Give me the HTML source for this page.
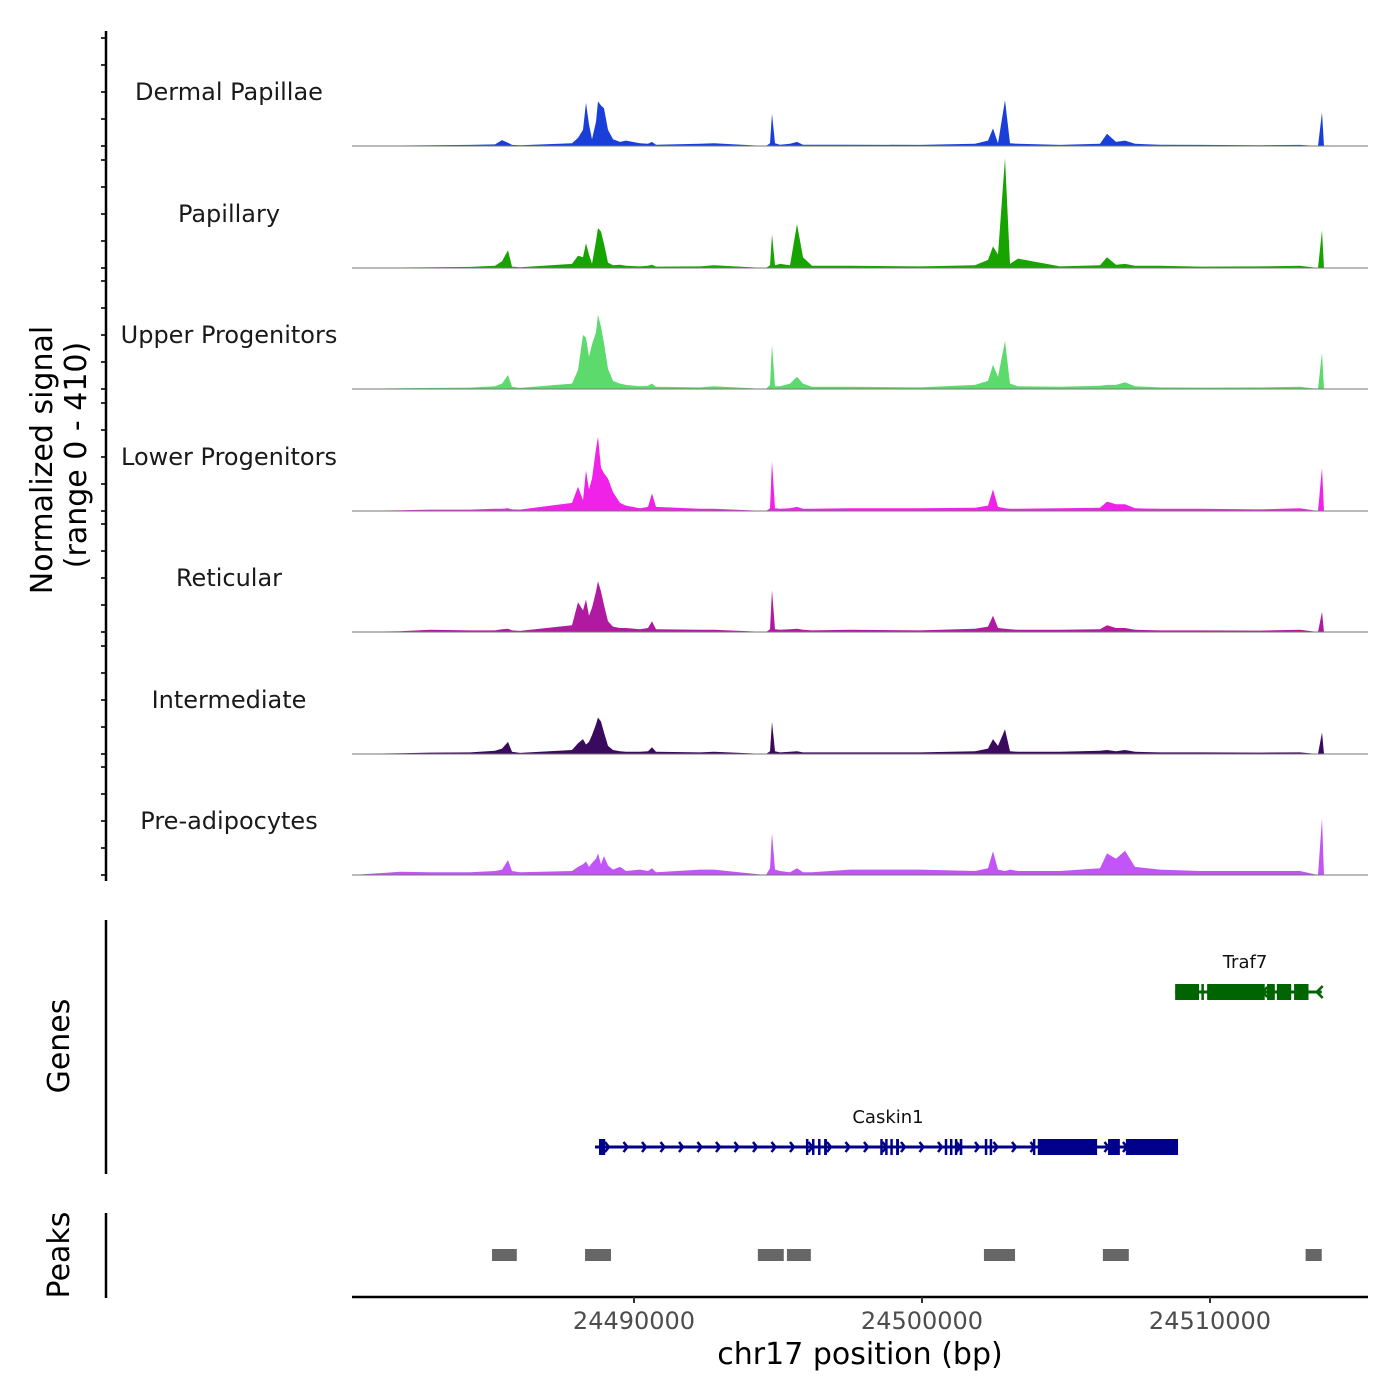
<!DOCTYPE html>
<html><head><meta charset="utf-8"><style>
html,body{margin:0;padding:0;background:#fff;}
svg{display:block;font-family:"DejaVu Sans","Liberation Sans",sans-serif;}
</style></head><body>
<svg id="chart" width="1400" height="1400" viewBox="0 0 1400 1400" xmlns="http://www.w3.org/2000/svg">
<g id="tracks"></g>
<g id="genes"></g>
<g id="peaks"></g>
<g id="axes"></g>
</svg>
<script>
// genomic positions (bp) of signal sample points
const positions = [24480208,24481875,24482917,24484306,24485174,24485417,24485625,24485764,24486042,24487847,24488056,24488229,24488333,24488438,24488542,24488681,24488750,24488854,24488958,24489097,24489271,24489514,24489722,24490208,24490486,24490625,24490764,24492292,24492778,24494583,24494722,24494792,24494896,24495069,24495417,24495660,24495868,24496181,24497500,24499931,24501840,24502292,24502465,24502639,24502882,24503056,24503333,24504792,24506181,24506424,24506736,24507049,24507396,24508264,24509653,24511736,24513125,24513750,24513889,24513958,24515486];
const groups = ["Dermal Papillae","Papillary","Upper Progenitors","Lower Progenitors","Reticular","Intermediate","Pre-adipocytes"];
const groupColors = ["#1a3fd8","#17a300","#5cdb6c","#f022ea","#b01aa0","#3a0a5e","#c255f8"];
// signal values per group (0-410), aligned with positions
const sigDermal = [0,2,3,4,6,22,12,4,3,10,30,60,160,80,25,90,165,150,140,60,25,15,20,10,8,15,5,8,10,0,10,120,10,5,8,15,5,5,5,4,8,20,65,10,170,10,8,4,8,45,15,20,8,5,4,3,4,0,125,0,0];
const sigPapillary = [0,2,3,4,8,25,66,5,3,15,45,40,92,50,15,100,148,135,90,20,10,12,8,6,8,12,5,6,10,0,10,125,10,15,10,163,40,8,8,6,10,30,80,50,407,15,35,6,10,40,12,15,8,8,5,6,8,0,140,0,0];
const sigUpper = [0,3,4,5,10,20,52,8,4,20,70,200,190,120,165,210,275,230,170,75,30,20,15,10,12,20,8,6,10,0,15,165,10,10,20,45,20,8,8,6,15,30,90,45,178,20,10,8,12,15,15,25,10,6,5,6,8,0,135,0,0];
const sigLower = [0,3,5,5,8,8,10,6,5,30,90,40,150,80,120,230,275,160,140,120,70,30,20,10,15,65,15,8,8,0,10,185,10,8,10,15,8,8,10,10,12,20,80,15,10,8,8,10,12,35,25,25,10,8,8,6,10,0,160,0,0];
const sigReticular = [0,3,8,6,6,10,12,6,4,25,110,80,120,60,90,150,188,150,100,40,20,15,15,10,15,40,10,8,8,0,10,155,10,8,10,12,8,6,8,6,12,20,60,15,12,10,8,8,10,25,15,15,8,6,6,5,8,0,75,0,0];
const sigIntermediate = [0,3,5,6,12,20,45,8,4,15,40,55,35,45,70,110,135,120,80,30,15,10,8,8,10,25,8,6,8,0,10,120,10,6,8,10,6,6,6,6,10,20,55,30,92,10,8,8,12,15,10,15,8,6,6,5,6,0,80,0,0];
const sigPreadipo = [0,12,10,10,15,20,55,15,10,15,30,40,50,30,45,60,80,40,70,35,20,30,15,20,15,25,10,20,20,0,25,155,20,15,10,25,10,10,20,20,15,25,88,20,15,20,15,15,25,80,60,90,30,20,15,15,15,0,210,0,0];
const signals = [sigDermal,sigPapillary,sigUpper,sigLower,sigReticular,sigIntermediate,sigPreadipo];
// axis ticks
const xTicks = [24490000,24500000,24510000];
const yTickValues = [0,100,200,300,400];
// genes: exons [start,end] in bp
const caskin1Exons = [[24488785,24489000],[24495970,24496030],[24496180,24496240],[24496390,24496450],[24496600,24496700],[24498550,24498620],[24498720,24498790],[24498900,24498970],[24499100,24499200],[24500790,24500860],[24500970,24501040],[24501140,24501210],[24501310,24501400],[24502180,24502250],[24502350,24502420],[24503850,24503920],[24504020,24506080],[24506460,24506870],[24507080,24508890]];
const caskin1Span = [24488645,24508890];
const traf7Exons = [[24508790,24509620],[24509700,24509760],[24509900,24511900],[24511980,24512250],[24512320,24512820],[24512920,24513420]];
const traf7Span = [24508790,24513880];
// peaks [start,end] bp
const peakRegions = [[24485070,24485930],[24488300,24489200],[24494300,24495200],[24495310,24496140],[24502150,24503230],[24506280,24507180],[24513320,24513880]];

const NS="http://www.w3.org/2000/svg";
const X0=352,X1=1368,BP0=24480208,BP1=24515486;
function xs(bp){return X0+(bp-BP0)/(BP1-BP0)*(X1-X0);}
const YMAX=410,TRACK_H=110.7;
const baselines=[146,268,389,511,632,754,875];
function mk(tag,attrs,parent){const e=document.createElementNS(NS,tag);for(const k in attrs)e.setAttribute(k,attrs[k]);parent.appendChild(e);return e;}
const tracks=document.getElementById('tracks');
groups.forEach((g,i)=>{
  const b=baselines[i];
  const ys=v=>b-v/YMAX*TRACK_H;
  let d='M'+xs(positions[0])+','+b;
  positions.forEach((p,j)=>{d+=' L'+xs(p).toFixed(1)+','+ys(signals[i][j]).toFixed(1);});
  d+=' L'+xs(positions[positions.length-1])+','+b+' Z';
  const a=mk('path',{d:d,fill:groupColors[i],stroke:'none'},tracks);
  
  
  const l=mk('line',{x1:X0,x2:X1,y1:b,y2:b,stroke:'#777','stroke-width':1},tracks);
  
  
  const t=mk('text',{x:229,y:b-46,'text-anchor':'middle','font-size':24,fill:'#1a1a1a'},tracks);
  t.textContent=g;
  
  
  yTickValues.forEach(v=>{
    const tk=mk('line',{x1:101,x2:106,y1:ys(v),y2:ys(v),stroke:'#333','stroke-width':2},tracks);
    
    
  });
});
// genes
const genes=document.getElementById('genes');
function drawGene(name,span,exons,y,color,strand,labelX){
  const gg=mk('g',{},genes);
  
  
  mk('line',{x1:xs(span[0]),x2:xs(span[1]),y1:y,y2:y,stroke:color,'stroke-width':3},gg);
  const x0=xs(span[0]),x1=xs(span[1]);
  for(let x=x0+14;x<x1-6;x+=18.5){
    const dx=strand>0?4:-4;
    mk('polyline',{points:(x-dx)+','+(y-5)+' '+x+','+y+' '+(x-dx)+','+(y+5),fill:'none',stroke:color,'stroke-width':2.5},gg);
  }
  if(strand<0){mk('polyline',{points:(x1+1)+','+(y-6)+' '+(x1-5)+','+y+' '+(x1+1)+','+(y+6),fill:'none',stroke:color,'stroke-width':2.5},gg);}
  exons.forEach(e=>{
    const w=Math.max(xs(e[1])-xs(e[0]),2.5);
    mk('rect',{x:xs(e[0]),y:y-8,width:w,height:16,fill:color},gg);
  });
  const t=mk('text',{x:labelX,y:y-24,'text-anchor':'middle','font-size':18,fill:'#111'},gg);
  t.textContent=name;
  
  
}
drawGene('Traf7',traf7Span,traf7Exons,992,'#006400',-1,1245);
drawGene('Caskin1',caskin1Span,caskin1Exons,1147,'#00008b',1,888);
// peaks
const peaks=document.getElementById('peaks');
peakRegions.forEach(p=>{
  const r=mk('rect',{x:xs(p[0]),y:1249,width:xs(p[1])-xs(p[0]),height:12,fill:'#666'},peaks);
  
  
});
// axes
const axes=document.getElementById('axes');
let e;
e=mk('line',{x1:106,x2:106,y1:31,y2:881,stroke:'#000','stroke-width':2.5},axes);


e=mk('line',{x1:106,x2:106,y1:920,y2:1174,stroke:'#000','stroke-width':2.5},axes);


e=mk('line',{x1:106,x2:106,y1:1213,y2:1298,stroke:'#000','stroke-width':2.5},axes);


e=mk('line',{x1:X0,x2:X1,y1:1297,y2:1297,stroke:'#000','stroke-width':2.5},axes);


xTicks.forEach(v=>{
  const tk=mk('line',{x1:xs(v),x2:xs(v),y1:1297,y2:1303,stroke:'#333','stroke-width':2},axes);
  
  
  const t=mk('text',{x:xs(v),y:1329,'text-anchor':'middle','font-size':24,fill:'#4d4d4d'},axes);
  t.textContent=String(v);
  
  
});
e=mk('text',{x:860,y:1364,'text-anchor':'middle','font-size':30,fill:'#000'},axes);
e.textContent='chr17 position (bp)';


e=mk('text',{transform:'translate(52,460) rotate(-90)','text-anchor':'middle','font-size':30,fill:'#000'},axes);
e.textContent='Normalized signal';


e=mk('text',{transform:'translate(86,455) rotate(-90)','text-anchor':'middle','font-size':30,fill:'#000'},axes);
e.textContent='(range 0 - 410)';


e=mk('text',{transform:'translate(69,1046) rotate(-90)','text-anchor':'middle','font-size':30,fill:'#000'},axes);
e.textContent='Genes';


e=mk('text',{transform:'translate(69,1255) rotate(-90)','text-anchor':'middle','font-size':30,fill:'#000'},axes);
e.textContent='Peaks';


</script>
</body></html>
